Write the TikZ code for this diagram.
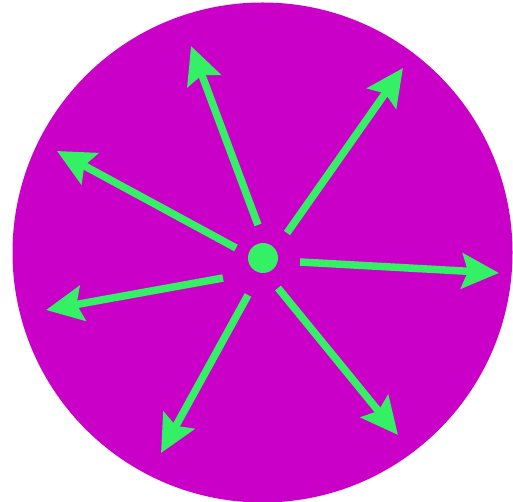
\documentclass[tikz,border=0pt]{standalone}
\usetikzlibrary{arrows.meta}
\definecolor{discmag}{RGB}{202,0,200}
\definecolor{raygreen}{RGB}{52,240,100}
\tikzset{
  ray/.style={draw=raygreen, line width=7.5pt, -{Stealth[length=37pt,width=35pt,inset=6pt]}},
  hub/.style={circle, fill=raygreen, inner sep=0pt, minimum size=30pt}
}
\begin{document}
\begin{tikzpicture}[x=1pt,y=-1pt]
\useasboundingbox (0,0) rectangle (513,502);
\clip (0,0) rectangle (513,502);
\fill[discmag] (262.5,252.5) circle (250);
\node[hub] (c) at (263,258) {};
\coordinate (s1) at (258,225); \coordinate (t1) at (191,46);
\coordinate (s2) at (287,233); \coordinate (t2) at (403,68);
\coordinate (s3) at (236,248); \coordinate (t3) at (57,151);
\coordinate (s4) at (300,262); \coordinate (t4) at (499,273);
\coordinate (s5) at (223,278); \coordinate (t5) at (46,310);
\coordinate (s6) at (248,295); \coordinate (t6) at (161,453);
\coordinate (s7) at (278,288); \coordinate (t7) at (398,435);
\foreach \i in {1,...,7} { \draw[ray] (s\i) -- (t\i); }
\end{tikzpicture}
\end{document}
